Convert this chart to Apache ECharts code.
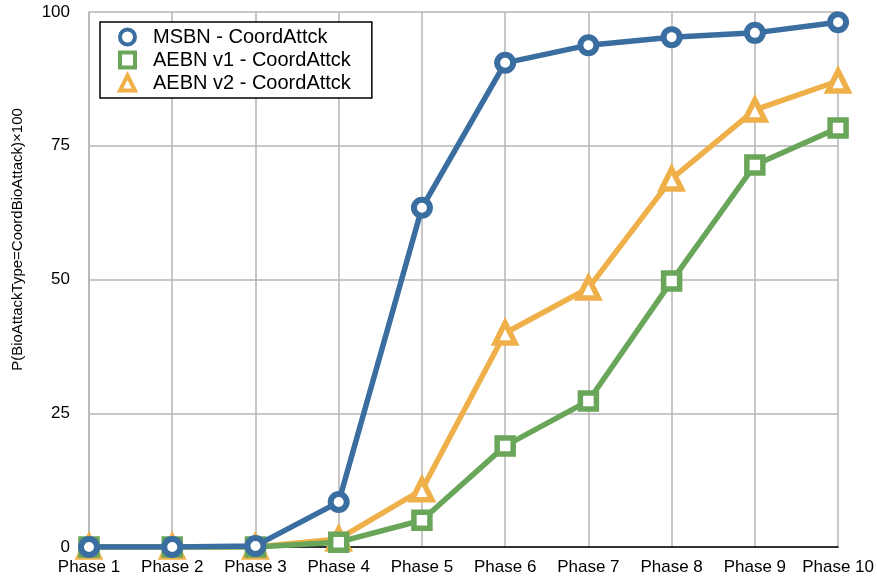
<!DOCTYPE html>
<html><head><meta charset="utf-8">
<script src="https://cdn.jsdelivr.net/npm/echarts@6/dist/echarts.min.js"></script>
<style>html,body{margin:0;padding:0;background:#fff}#c{width:877px;height:577px}</style>
</head><body><div id="c"></div>
<script>
const categories = ['Phase 1','Phase 2','Phase 3','Phase 4','Phase 5','Phase 6','Phase 7','Phase 8','Phase 9','Phase 10'];
const msbn = [0, 0, 0.2, 8.4, 63.4, 90.5, 93.8, 95.3, 96.1, 98.1];
const aebnV1 = [0, 0, 0, 0.9, 5.0, 18.9, 27.3, 49.7, 71.4, 78.3];
const aebnV2 = [0, 0, 0, 1.5, 10.7, 40.0, 48.4, 68.8, 81.7, 87.1];
const yTicks = [0, 25, 50, 75, 100];
const seriesNames = ['MSBN - CoordAttck', 'AEBN v1 - CoordAttck', 'AEBN v2 - CoordAttck'];

const FONT = 'Liberation Sans, Helvetica, Arial, sans-serif';
const colors = ['#3b6ea0', '#6aa65a', '#efb04a'];
const symbols = ['circle', 'rect', 'triangle'];
const sizes = [16, 16, 20];
const borders = [6, 5.5, 5.5];
const zs = [5, 4, 3];
const datas = [msbn, aebnV1, aebnV2];

const chart = echarts.init(document.getElementById('c'), null, {renderer: 'canvas'});
chart.setOption({
  animation: false,
  grid: {left: 89, right: 38, top: 12, bottom: 30, containLabel: false},
  legend: {
    data: seriesNames.map((n, i) => ({name: n, icon: symbols[i], itemStyle: {color: '#fff', borderColor: colors[i], borderWidth: 4}})),
    orient: 'vertical', left: 100, top: 22,
    backgroundColor: '#fff', borderColor: '#000', borderWidth: 1.5, borderRadius: 0,
    padding: [5, 21, 5, 18], itemGap: 3, itemWidth: 15, itemHeight: 15,
    textStyle: {fontFamily: FONT, fontSize: 20, color: '#000', padding: [0, 0, 0, 13]},
    z: 10
  },
  xAxis: {
    type: 'category', data: categories, boundaryGap: false,
    axisLine: {show: true, lineStyle: {color: '#000', width: 1.5}},
    axisTick: {show: false},
    axisLabel: {fontFamily: FONT, fontSize: 17, color: '#000', margin: 12, interval: 0},
    splitLine: {show: true, lineStyle: {color: '#b4b4b4', width: 1.5}}
  },
  yAxis: {
    type: 'value', min: yTicks[0], max: yTicks[yTicks.length - 1], interval: 25,
    name: 'P(BioAttackType=CoordBioAttack)×100', nameLocation: 'middle', nameGap: 64,
    nameTextStyle: {fontFamily: FONT, fontSize: 15, color: '#000', padding: [0, 0, 0, 80]},
    axisLine: {show: true, lineStyle: {color: '#b4b4b4', width: 1.5}},
    axisTick: {show: false},
    axisLabel: {fontFamily: FONT, fontSize: 17, color: '#000', margin: 19},
    splitLine: {show: true, lineStyle: {color: '#b4b4b4', width: 1.5}}
  },
  series: [2, 1, 0].map(i => ({
    name: seriesNames[i], type: 'line', data: datas[i],
    symbol: symbols[i], symbolSize: sizes[i], showAllSymbol: true,
    lineStyle: {color: colors[i], width: 5.5},
    itemStyle: {color: '#fff', borderColor: colors[i], borderWidth: borders[i]},
    z: zs[i]
  }))
});
</script>
</body></html>
